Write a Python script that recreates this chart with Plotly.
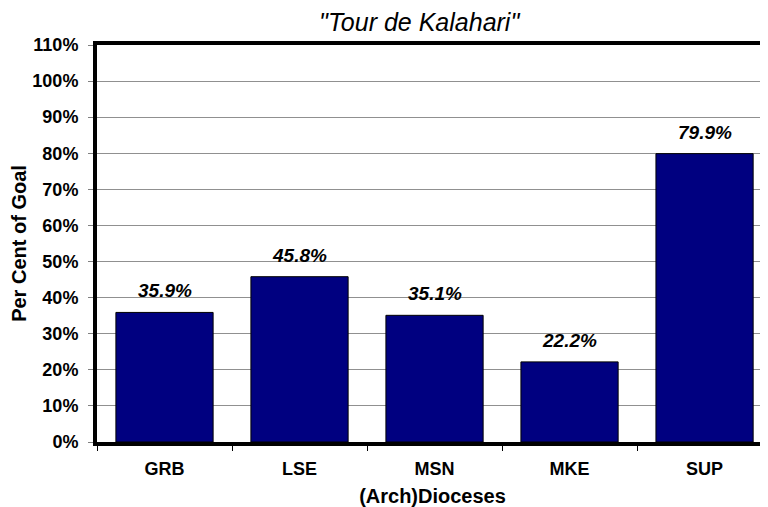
import plotly.graph_objects as go

categories = ["GRB", "LSE", "MSN", "MKE", "SUP"]
values = [35.9, 45.8, 35.1, 22.2, 79.9]
y_ticks = list(range(0, 111, 10))
y_tick_labels = [f"{v}%" for v in y_ticks]

FONT = "Liberation Sans, Arial"

fig = go.Figure()
fig.add_trace(go.Bar(
    x=categories, y=values,
    marker=dict(color="#000080", line=dict(color="black", width=1)),
    width=0.72,
))
for c, v in zip(categories, values):
    fig.add_annotation(x=c, y=v, text=f"<b><i>{v:.1f}%</i></b>", showarrow=False,
                       yanchor="bottom", yshift=9,
                       font=dict(family=FONT, size=19, color="black"))

fig.update_layout(
    width=760, height=499,
    margin=dict(l=89, r=0, t=37, b=65),
    paper_bgcolor="white", plot_bgcolor="white",
    showlegend=False,
    title=dict(text="<i>\"Tour de Kalahari\"</i>", x=0.541, xanchor="center", y=0.972, yanchor="middle",
               font=dict(family=FONT, size=25, color="black")),
    font=dict(family=FONT, color="black"),
)
fig.update_xaxes(
    range=[-0.5, 4.47], type="category", automargin=False,
    showline=True, linecolor="black", linewidth=4, mirror=True,
    ticks="outside", tickson="boundaries", ticklen=5, tickcolor="black",
    tickfont=dict(size=18), ticklabelstandoff=7,
    ticktext=[f"<b>{c}</b>" for c in categories], tickvals=categories,
    title=dict(text="<b>(Arch)Dioceses</b>", font=dict(size=20), standoff=13),
    showgrid=False,
)
fig.update_yaxes(
    range=[0, 110], tickvals=y_ticks, ticktext=[f"<b>{t}</b>" for t in y_tick_labels],
    automargin=False,
    showline=True, linecolor="black", linewidth=4,
    ticks="outside", ticklen=5, tickcolor="#808080",
    tickfont=dict(size=18), ticklabelstandoff=6,
    showgrid=True, gridcolor="#909090", gridwidth=1,
    title=dict(text="<b>Per Cent of Goal</b>", font=dict(size=20), standoff=7),
    zeroline=False,
)
fig.write_html("out.html")
